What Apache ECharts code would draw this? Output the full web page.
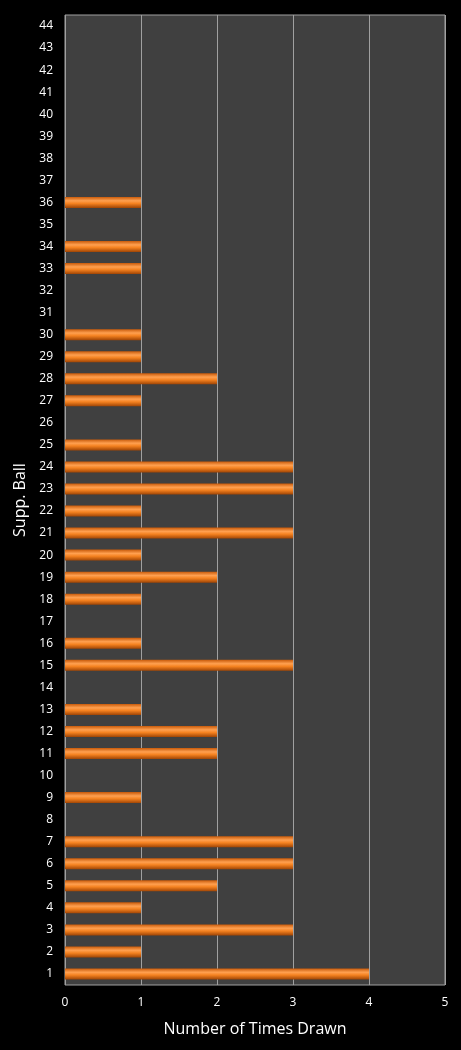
<!DOCTYPE html>
<html><head><meta charset="utf-8">
<script src="https://cdn.jsdelivr.net/npm/echarts@6/dist/echarts.min.js"></script>
<style>html,body{margin:0;background:#000;}#chart{width:461px;height:1050px;}</style>
</head><body><div id="chart"></div>
<script>
const balls = [];
for (let i = 1; i <= 44; i++) balls.push(String(i));
const timesDrawn = [4,1,3,1,2,3,3,0,1,0,2,2,1,0,3,1,0,1,2,1,3,1,3,3,1,0,1,2,1,1,0,0,1,1,0,1,0,0,0,0,0,0,0,0];
const xTicks = [0,1,2,3,4,5];

const chart = echarts.init(document.getElementById('chart'));
chart.setOption({
  backgroundColor: '#000',
  animation: false,
  grid: { left: 65, right: 16, top: 15, bottom: 65, backgroundColor: '#404040', show: true, borderColor: '#a0a0a0', borderWidth: 1 },
  xAxis: {
    type: 'value', min: xTicks[0], max: xTicks[xTicks.length - 1], interval: 1,
    name: 'Number of Times Drawn', nameLocation: 'middle', nameGap: 36,
    nameTextStyle: { color: '#fff', fontSize: 16, fontFamily: 'Open Sans' },
    axisLabel: { color: '#fff', fontSize: 12, fontFamily: 'Open Sans', margin: 12 },
    axisLine: { show: false }, axisTick: { show: false },
    splitLine: { lineStyle: { color: '#a0a0a0', width: 1 } }
  },
  yAxis: {
    type: 'category', data: balls,
    name: 'Supp. Ball', nameLocation: 'middle', nameGap: 36, nameRotate: 90,
    nameTextStyle: { color: '#fff', fontSize: 16, fontFamily: 'Open Sans' },
    axisLabel: { color: '#fff', fontSize: 12, fontFamily: 'Open Sans', margin: 12 },
    axisLine: { show: false }, axisTick: { show: false }
  },
  series: [{
    type: 'bar', data: timesDrawn, barWidth: 11,
    itemStyle: {
      color: new echarts.graphic.LinearGradient(0, 0, 0, 1, [
        { offset: 0, color: '#c85a0a' },
        { offset: 0.35, color: '#ffa050' },
        { offset: 0.6, color: '#f58220' },
        { offset: 1, color: '#a04505' }
      ])
    }
  }]
});
</script></body></html>
